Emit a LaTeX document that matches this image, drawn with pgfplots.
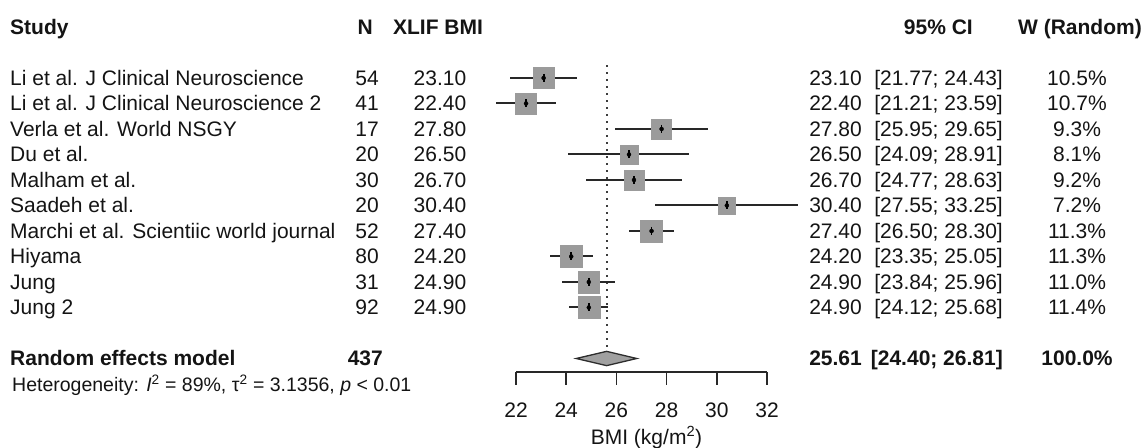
\documentclass[border=0pt]{standalone}
\usepackage{fontspec}
\setmainfont{Liberation Sans}
\usepackage{pgfplots}
\usepackage{pgfplotstable}
\pgfplotsset{compat=1.18}

\definecolor{sqcol}{RGB}{155,155,155}
\definecolor{cicol}{RGB}{40,40,40}
\definecolor{diacol}{RGB}{160,160,160}
\definecolor{diaedge}{RGB}{45,45,45}
\definecolor{txtcol}{RGB}{20,20,20}
\definecolor{axcol}{RGB}{40,40,40}
\definecolor{dotcol}{RGB}{60,60,60}

\pgfplotstableread{
row est lo hi w
1 23.10 21.77 24.43 10.5
2 22.40 21.21 23.59 10.7
3 27.80 25.95 29.65 9.3
4 26.50 24.09 28.91 8.1
5 26.70 24.77 28.63 9.2
6 30.40 27.55 33.25 7.2
7 27.40 26.50 28.30 11.3
8 24.20 23.35 25.05 11.3
9 24.90 23.84 25.96 11.0
10 24.90 24.12 25.68 11.4
}\studydata

\newcommand\fs{\fontsize{21bp}{25bp}\selectfont}
\newcommand\fh{\fontsize{19.5bp}{23bp}\selectfont}

\begin{document}
\fs
\begin{tikzpicture}[x=1bp,y=1bp, every node/.style={text=txtcol, inner sep=0pt, font=\fs}]
% main (hidden) axis: whole picture, x in BMI units, y in rows
\begin{axis}[at={(0bp,0bp)}, anchor=south west, scale only axis,
  width=1143bp, height=448bp,
  xmin=1.4422, xmax=46.980, ymin=-2.0588, ymax=15.5098, y dir=reverse,
  axis lines=none, clip=false]
% reference (dotted) line at the pooled estimate
\addplot[dotcol, line width=2bp, dash pattern=on 1.8bp off 5.2bp] coordinates {(25.61,0.5) (25.61,11.72)};
% weighted squares
\addplot[scatter, only marks, mark=square*,
  scatter/use mapped color={draw=sqcol, fill=sqcol},
  point meta=\thisrow{w},
  visualization depends on={3.25*sqrt(\thisrow{w}) \as \hs},
  scatter/@pre marker code/.append style={/tikz/mark size=\hs bp}]
  table[x=est, y=row] {\studydata};
% confidence intervals (drawn over the squares)
\addplot[only marks, mark=none,
  error bars/.cd, x dir=both, x explicit, error mark=none,
  error bar style={line width=2bp, color=cicol}]
  table[x=est, y=row, x error plus expr=\thisrow{hi}-\thisrow{est}, x error minus expr=\thisrow{est}-\thisrow{lo}] {\studydata};
% point estimate ticks
\addplot[only marks, mark=|, mark size=4bp, mark options={line width=1.8bp, draw=black}]
  table[x=est, y=row] {\studydata};
% pooled diamond
\addplot[fill=diacol, draw=diaedge, line width=1.3bp] coordinates {(24.40,12) (25.61,11.72) (26.81,12) (25.61,12.28)} --cycle;
\end{axis}

% bottom BMI axis
\begin{axis}[at={(516bp,76bp)}, anchor=south west, scale only axis,
  width=251bp, height=20bp,
  xmin=22, xmax=32, ymin=0, ymax=1,
  axis x line*=bottom, axis y line=none,
  xtick={22,24,26,28,30,32}, tick align=outside, major tick length=13bp,
  x axis line style={-, line width=1.5bp, color=axcol},
  tick style={line width=1.5bp, color=axcol},
  /pgf/number format/assume math mode=true,
  xticklabel style={anchor=base, yshift=-32.5bp, font=\fs},
  xlabel={BMI (kg/m\textsuperscript{2})},
  xlabel style={at={(axis description cs:0.5,0)}, anchor=base, yshift=-72.5bp, xshift=5bp, font=\fs}]
\end{axis}

% header
\begin{scope}[every node/.append style={font=\fs\bfseries}]
\node[anchor=base west] at (10,413.5) {Study};
\node[anchor=base east] at (373,413.5) {N};
\node[anchor=base] at (438,413.5) {XLIF BMI};
\node[anchor=base east] at (973,413.5) {95\% CI};
\node[anchor=base] at (1080,413.5) {W (Random)};
\end{scope}

% study rows
\foreach \yy/\name/\nn/\bmi/\lo/\hi/\w in {
362.5/Li et al. J Clinical Neuroscience/54/23.10/21.77/24.43/10.5,
337/Li et al. J Clinical Neuroscience 2/41/22.40/21.21/23.59/10.7,
311.5/Verla et al. World NSGY/17/27.80/25.95/29.65/9.3,
286/Du et al./20/26.50/24.09/28.91/8.1,
260.5/Malham et al./30/26.70/24.77/28.63/9.2,
235/Saadeh et al./20/30.40/27.55/33.25/7.2,
209.5/Marchi et al. Scientiic world journal/52/27.40/26.50/28.30/11.3,
184/Hiyama/80/24.20/23.35/25.05/11.3,
158.5/Jung/31/24.90/23.84/25.96/11.0,
133/Jung 2/92/24.90/24.12/25.68/11.4}
{
 \node[anchor=base west] at (10,\yy) {\name};
 \node[anchor=base east] at (379,\yy) {\nn};
 \node[anchor=base] at (440,\yy) {\bmi};
 \node[anchor=base east] at (862,\yy) {\bmi};
 \node[anchor=base east] at (1003,\yy) {[\lo; \hi]};
 \node[anchor=base] at (1077,\yy) {\w\%};
}

% pooled row
\begin{scope}[every node/.append style={font=\fs\bfseries}]
\node[anchor=base west] at (10,82) {Random effects model};
\node[anchor=base east] at (383,82) {437};
\node[anchor=base east] at (862,82) {25.61};
\node[anchor=base east] at (1003,82) {[24.40; 26.81]};
\node[anchor=base] at (1077,82) {100.0\%};
\end{scope}

\node[anchor=base west, font=\fh] at (12,56.2) {Heterogeneity: \textit{I}\textsuperscript{2} = 89\%, τ\textsuperscript{2} = 3.1356, \textit{p} < 0.01};

\pgfresetboundingbox
\path[use as bounding box] (0,0) rectangle (1143,448);
\end{tikzpicture}
\end{document}
